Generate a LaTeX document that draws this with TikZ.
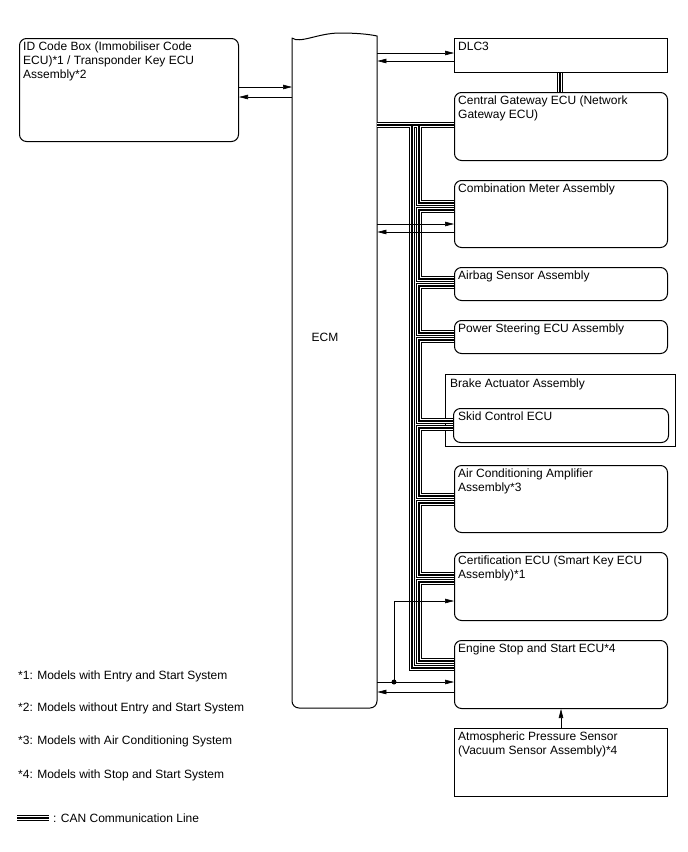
\documentclass[tikz,border=0pt]{standalone}
\usepackage{fontspec}
\setmainfont{Liberation Sans}
\usetikzlibrary{arrows.meta}
\newcommand\canlines[1]{%
  \draw[#1] (ecm.east |- 0,125) -- (cgw.west |- 0,125);
  \draw[#1] (dlc.south -| 560,0) -- (cgw.north -| 560,0);
  \draw[#1] (412,125) -- (412,668) -- (ess.west |- 0,668);
  \draw[#1] (419,125) -- (419,203) -- (cm.west |- 0,203);
  \draw[#1] (cm.west |- 0,210) -- (419,210) -- (419,279) -- (ab.west |- 0,279);
  \draw[#1] (ab.west |- 0,286) -- (419,286) -- (419,333) -- (ps.west |- 0,333);
  \draw[#1] (ps.west |- 0,340) -- (419,340) -- (419,421) -- (skid.west |- 0,421);
  \draw[#1] (skid.west |- 0,428) -- (419,428) -- (419,496) -- (ac.west |- 0,496);
  \draw[#1] (ac.west |- 0,503) -- (419,503) -- (419,575) -- (cert.west |- 0,575);
  \draw[#1] (cert.west |- 0,582) -- (419,582) -- (419,661) -- (ess.west |- 0,661);
  \draw[#1] (legA) -- (legB);
}
\begin{document}
\begin{tikzpicture}[x=1pt,y=-1pt, font=\fontsize{12}{14}\selectfont,
  box/.style={draw, line width=1pt, rounded corners=7pt, anchor=north west, inner sep=0, minimum width=213pt},
  sbox/.style={draw, line width=1pt, anchor=north west, inner sep=0, minimum width=213pt},
  lbl/.style={anchor=base west, inner sep=0, align=left},
  sig/.style={line width=0.6pt, -{Triangle[length=9pt,width=4.5pt]}},
  canA/.style={line width=6.8pt, black},
  canB/.style={line width=3.6pt, white},
  canC/.style={line width=1.4pt, black}]
\fill[white] (0,0) rectangle (688,852);
\useasboundingbox (0,0) rectangle (688,852);

% boxes
\node[box, minimum width=219pt, minimum height=103pt] (id) at (19,38) {};
\node[anchor=north west, inner sep=0, minimum width=85pt, minimum height=672pt] (ecm) at (292,36) {};
\draw[line width=1pt] (292,38) .. controls (300,44) and (318,33) .. (340,33) .. controls (355,33) and (368,34) .. (377,36) [rounded corners=7pt] -- (377,708) -- (292,708) -- (292,37.6);
\node[sbox, minimum height=34pt] (dlc) at (454,38) {};
\node[box, minimum height=68pt] (cgw) at (454,92) {};
\node[box, minimum height=67pt] (cm) at (454,180) {};
\node[box, minimum height=33pt] (ab) at (454,267) {};
\node[box, minimum height=33pt] (ps) at (454,320) {};
\node[sbox, minimum width=230pt, minimum height=72pt] (brk) at (445,374) {};
\node[box, minimum width=215pt, minimum height=34pt] (skid) at (453,408) {};
\node[box, minimum height=67pt] (ac) at (454,465) {};
\node[box, minimum height=68pt] (cert) at (454,552) {};
\node[box, minimum height=68pt] (ess) at (454,640) {};
\node[sbox, minimum height=68pt] (atm) at (454,728) {};

% labels (base anchor = baseline of last line)
\node[lbl] (idt) at ([xshift=4pt,yshift=-40pt]id.north west) {ID Code Box (Immobiliser Code\\ECU)*1 / Transponder Key ECU\\Assembly*2};
\node[anchor=base, inner sep=0] (ecmt) at (325,341) {ECM};
\node[lbl] (dlct) at ([xshift=4pt,yshift=-12pt]dlc.north west) {DLC3};
\node[lbl] (cgwt) at ([xshift=4pt,yshift=-26pt]cgw.north west) {Central Gateway ECU (Network\\Gateway ECU)};
\node[lbl] (cmt) at ([xshift=4pt,yshift=-12pt]cm.north west) {Combination Meter Assembly};
\node[lbl] (abt) at ([xshift=4pt,yshift=-12pt]ab.north west) {Airbag Sensor Assembly};
\node[lbl] (pst) at ([xshift=4pt,yshift=-12pt]ps.north west) {Power Steering ECU Assembly};
\node[lbl] (brkt) at ([xshift=5pt,yshift=-13pt]brk.north west) {Brake Actuator Assembly};
\node[lbl] (skidt) at ([xshift=5pt,yshift=-12pt]skid.north west) {Skid Control ECU};
\node[lbl] (act) at ([xshift=4pt,yshift=-26pt]ac.north west) {Air Conditioning Amplifier\\Assembly*3};
\node[lbl] (certt) at ([xshift=4pt,yshift=-26pt]cert.north west) {Certification ECU (Smart Key ECU\\Assembly)*1};
\node[lbl] (esst) at ([xshift=4pt,yshift=-12pt]ess.north west) {Engine Stop and Start ECU*4};
\node[lbl] (atmt) at ([xshift=4pt,yshift=-26pt]atm.north west) {Atmospheric Pressure Sensor\\(Vacuum Sensor Assembly)*4};

% legend
\node[lbl] (n1) at (18,679) {*1: Models with Entry and Start System};
\node[lbl] (n2) at (18,711) {*2: Models without Entry and Start System};
\node[lbl] (n3) at (18,744) {*3: Models with Air Conditioning System};
\node[lbl] (n4) at (18,778) {*4: Models with Stop and Start System};
\coordinate (legA) at (17,818);
\coordinate (legB) at (49,818);
\node[lbl] (n5) at (53,822) {: CAN Communication Line};

% CAN bus, three passes
\canlines{canA}
\canlines{canB}
\canlines{canC}

% signal lines
\draw[sig] (id.east |- 0,87) -- (ecm.west |- 0,87);
\draw[sig] (ecm.west |- 0,97) -- (id.east |- 0,97);
\draw[sig] (ecm.east |- 0,53) -- (dlc.west |- 0,53);
\draw[sig] (dlc.west |- 0,61) -- (ecm.east |- 0,61);
\draw[sig] (ecm.east |- 0,224) -- (cm.west |- 0,224);
\draw[sig] (cm.west |- 0,232) -- (ecm.east |- 0,232);
\node[circle, fill, inner sep=0, minimum size=5pt] (dot) at (394,682) {};
\draw[sig] (ecm.east |- 0,682) -- (ess.west |- 0,682);
\draw[sig] (dot.center) |- (cert.west |- 0,601);
\draw[sig] (ess.west |- 0,692) -- (ecm.east |- 0,692);
\draw[sig] (atm.north -| 561,0) -- (ess.south -| 561,0);
\end{tikzpicture}
\end{document}
